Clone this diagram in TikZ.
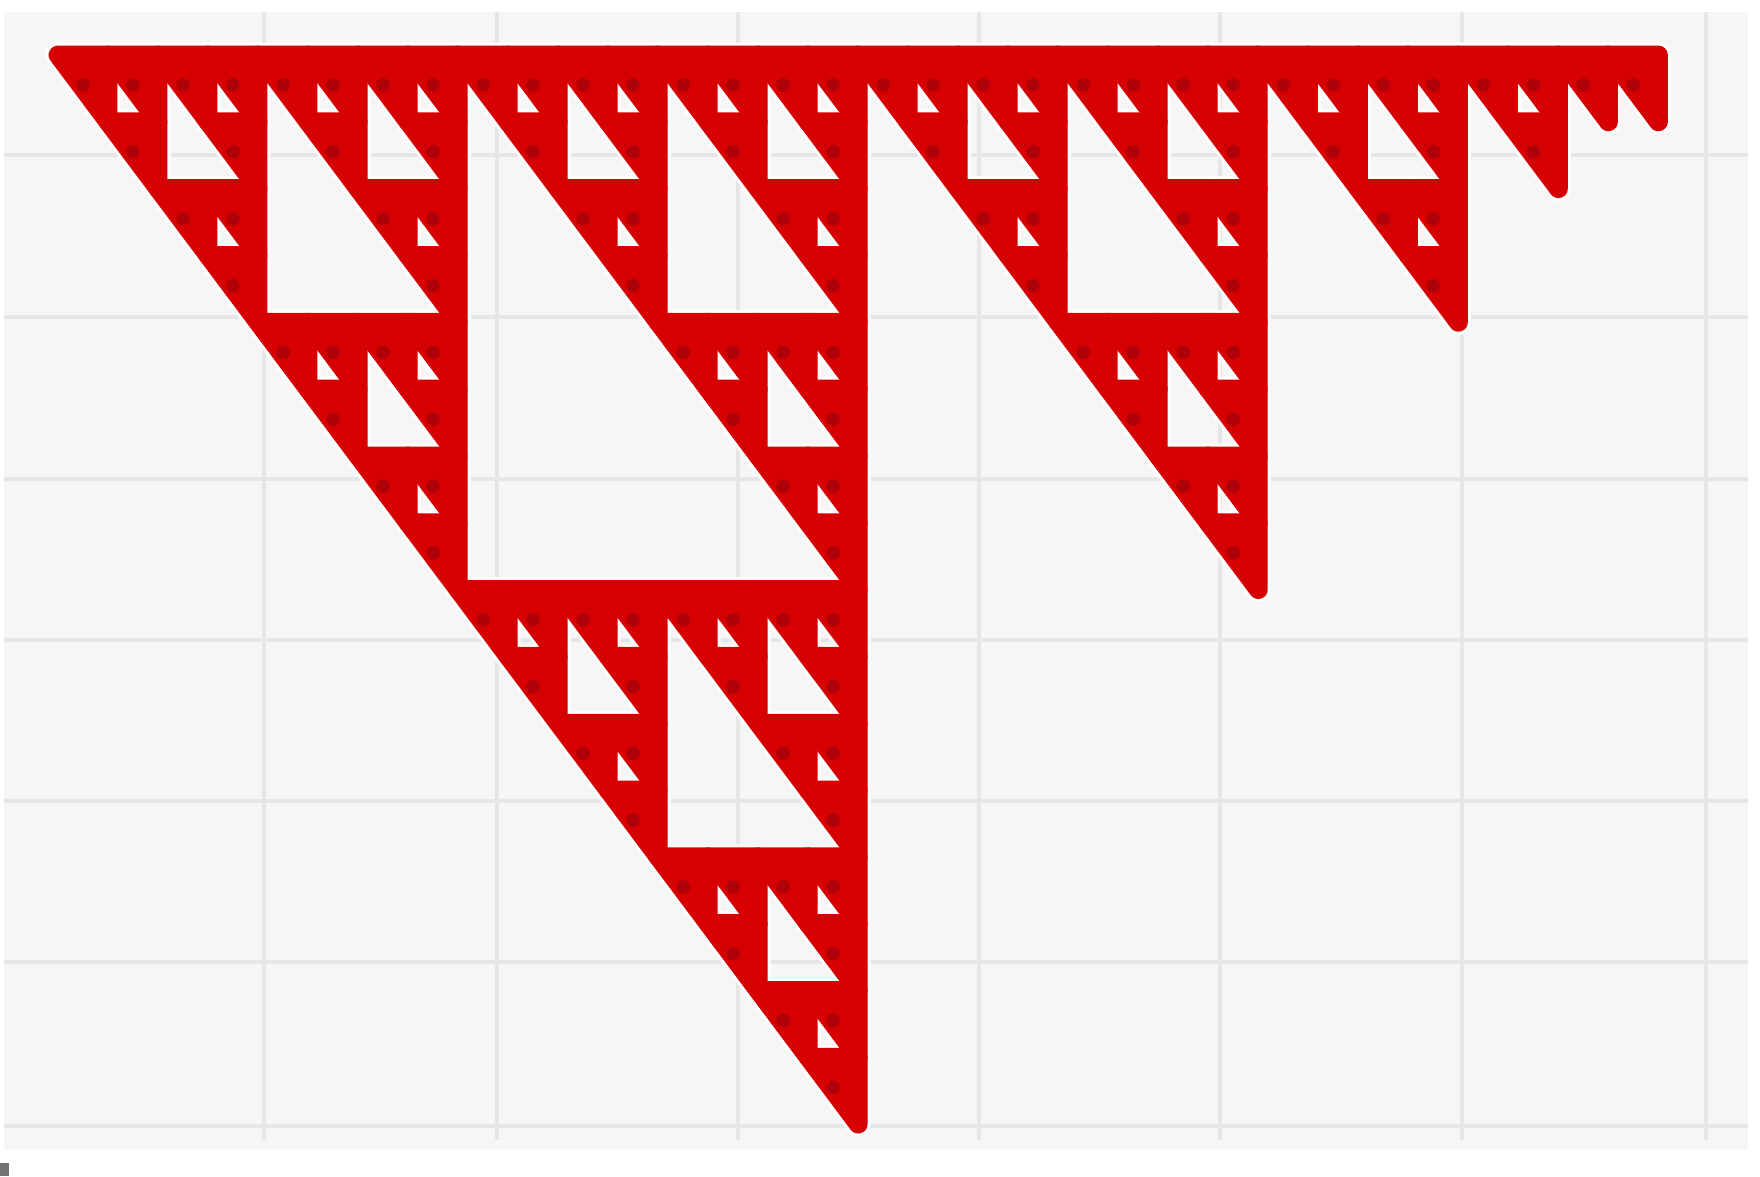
\documentclass[tikz,border=0pt]{standalone}
\usepackage{tikz}

\definecolor{cellred}{RGB}{214,0,0}
\definecolor{spotred}{RGB}{155,0,14}
\definecolor{plotbg}{RGB}{246,246,246}
\definecolor{gridgray}{RGB}{230,230,230}

% \bad=0 when C(c,r) is odd and the cell lies inside the picture
\newcommand{\cellcheck}[2]{%
  \pgfmathtruncatemacro\bad{mod(#2,2)*(1-mod(#1,2))
    + mod(floor(#2/2),2)*(1-mod(floor(#1/2),2))
    + mod(floor(#2/4),2)*(1-mod(floor(#1/4),2))
    + mod(floor(#2/8),2)*(1-mod(floor(#1/8),2))
    + (#2>#1) + (#2+#1>31)}}

\begin{document}
\begin{tikzpicture}[
  x=0.025cm, y=-0.025cm,
  gridline/.style={draw=gridgray, line width=0.12cm},
  halo/.style={draw=white, line width=0.62cm, line join=round},
  cell/.style={fill=cellred, draw=cellred, line width=0.47cm, line join=round},
  spot/.style={fill=spotred, opacity=0.65}
]
\useasboundingbox (0,0) rectangle (1760,1176);
\fill[white] (0,0) rectangle (1760,1176);
\fill[plotbg] (4,12) rectangle (1748,1150);
\foreach \gx in {264,497,738,979,1220,1462,1706}
  \draw[gridline] (\gx,12) -- (\gx,1140);
\foreach \gy in {155,317,479,640,801,962,1126}
  \draw[gridline] (4,\gy) -- (1748,\gy);
\fill[black!55] (0,1163) rectangle (9,1176);

\begin{scope}[xshift=1.45cm, yshift=-1.375cm, x=1.25cm, y=-1.67cm]
  \foreach \pass in {halo,cell}
    \foreach \c in {0,...,31}
      \foreach \r in {0,...,15} {
        \cellcheck{\c}{\r}
        \ifnum\bad=0
          \path[\pass] (\c,\r) -- (\c+1,\r) -- (\c+1,\r+1) -- cycle;
        \fi
      }
  \foreach \c in {0,...,31}
    \foreach \r in {0,...,15} {
      \cellcheck{\c}{\r}
      \ifnum\bad=0
        \fill[spot] (\c+0.5,\r+0.45) circle[radius=0.17cm];
      \fi
    }
\end{scope}
\end{tikzpicture}
\end{document}
